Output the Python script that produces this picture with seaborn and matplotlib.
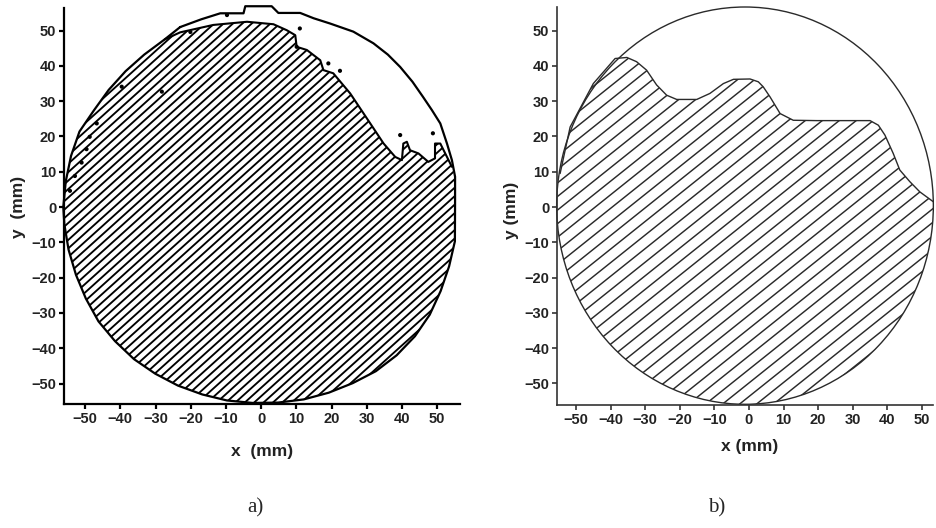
import numpy as np
import matplotlib
matplotlib.use("Agg")
import matplotlib.pyplot as plt
import seaborn as sns
from matplotlib.patches import Polygon, Ellipse
from matplotlib.collections import LineCollection

# ---- panel a: measured wafer outline (mm), clockwise from the top left ----
outer_a_x = [-23, -17, -11.6, -5, -4.5, 3, 4.9, 11.1, 14.9, 19.6, 26.2, 31.9, 36, 39.5, 43, 46,
             48.5, 50.9, 52.8, 54.2, 55.1, 55.1, 55.05, 53.4, 51.0, 47.9, 43.7, 38.5, 32.6,
             26.0, 19.2, 12.1, 4.8, -2.4, -9.7, -16.7, -23.6, -30.1, -36.1, -41.5, -46.2,
             -49.8, -52.6, -54.7, -55.9, -56.2, -55.5, -54.0, -51.6, -47.5, -43.3, -38.5,
             -33.2, -27.4, -23]
outer_a_y = [51, 53.2, 54.9, 54.9, 56.9, 56.9, 55, 55, 53.5, 52, 49.7, 46.4, 43.2, 39.7, 35.5,
             31.2, 27.5, 23.7, 18, 13.3, 8.6, 2, -9.7, -16.8, -23.8, -30.5, -36.6, -42.0,
             -46.5, -49.9, -52.6, -54.5, -55.4, -55.5, -54.8, -53.1, -50.6, -47.2, -43.1,
             -38.0, -32.4, -25.9, -19.2, -12.1, -4.9, 0, 7.3, 14.5, 21.4, 27.4, 33.2, 38.5,
             43.2, 47.5, 51]

# inner edge of the hatched (covered) region
edge_a_x = [-27.4, -23, -13.6, -4, 3.5, 7.3, 9.7, 10.1, 13, 16.8, 17.7, 20.5, 25.3, 31, 34.8, 38.1,
            40, 40.4, 41.4, 42.3, 44.7, 47.5, 49.4, 49.4, 50.9, 52.3, 54.2]
edge_a_y = [47.5, 49.5, 51.6, 52.5, 51.8, 50.1, 48.7, 45.4, 44.5, 41.6, 38.8, 37.9, 32.2, 23.7, 18, 14.2,
            13.3, 18, 18.5, 16.1, 15.2, 12.8, 13.8, 18, 18, 15.2, 11.4]

# stray specks
dots_a_x = [19.1, 22.4, 39.5, 48.8, 11, 10.1, -9.7, -20.1, -39.6, -28.2, -46.7, -48.7, -49.6, -51, -52.9, -54.3]
dots_a_y = [40.7, 38.6, 20.4, 20.9, 50.6, 45.4, 54.4, 49.6, 34.1, 32.7, 23.7, 19.9, 16.4, 12.6, 8.8, 4.6]

# ---- panel b: wafer circle and covered region ----
circle_b_center = (-1.15, 0.4)
circle_b_size = (108.9, 112.6)

edge_b_x = [-54.6, -51.7, -45, -38.7, -35.3, -32.5, -29.6, -26.7, -23.8, -20.9, -15.1, -11.3,
            -7.4, -4.5, 0.3, 2.7, 4.1, 6.1, 9, 12.8, 19.6, 35, 37.4, 39.3, 41.7, 43.6, 46.5,
            49.4, 53.3]
edge_b_y = [9.5, 22.7, 35, 42.1, 42.4, 41.2, 38.8, 34.6, 31.7, 30.5, 30.5, 32.2, 35, 36.2, 36.3,
            35.5, 34.1, 31.2, 26.5, 24.6, 24.5, 24.5, 23.2, 20.4, 15.2, 10.5, 7.2, 4.3, 1.5]

ticks = list(range(-50, 51, 10))

sns.set_style("ticks")
plt.rcParams['font.family'] = ['Liberation Sans', 'DejaVu Sans']


def add_hatch(ax, poly_xy, slope, step, lw, color):
    patch = Polygon(poly_xy, closed=True, facecolor='none', edgecolor='none',
                    transform=ax.transData)
    ax.add_patch(patch)
    segs = [[(-80, -80 * slope + c), (80, 80 * slope + c)]
            for c in np.arange(-200, 200, step)]
    lc = LineCollection(segs, colors=color, linewidths=lw)
    ax.add_collection(lc)
    lc.set_clip_path(patch)


def style_axes(ax, spine_lw, color):
    sns.despine(ax=ax)
    for s in ['left', 'bottom']:
        ax.spines[s].set_linewidth(spine_lw)
        ax.spines[s].set_color(color)
    ax.set_xticks(ticks)
    ax.set_yticks(ticks)
    ax.tick_params(direction='out', length=3.5, width=spine_lw, colors=color,
                   labelsize=10.5, pad=2)
    for lab in ax.get_xticklabels() + ax.get_yticklabels():
        lab.set_fontweight('bold')
        lab.set_color('#222222')


fig = plt.figure(figsize=(9.36, 5.28), dpi=100)

# ---- panel a ----
ax1 = fig.add_axes([64 / 936, 1 - 404 / 528, 396 / 936, 396 / 528])
ax1.set_xlim(-56, 56.5)
ax1.set_ylim(-55.8, 56.4)

# hatched region: inner edge, then the outer outline from the right side round the bottom
i_start = 20  # outer point (55.1, 8.6)
hatch_a = list(zip(edge_a_x, edge_a_y)) + list(zip(outer_a_x[i_start:-2], outer_a_y[i_start:-2]))
add_hatch(ax1, hatch_a, 0.9, 2.4, 1.35, 'black')

sns.lineplot(x=outer_a_x, y=outer_a_y, sort=False, estimator=None, color='black',
             lw=1.6, ax=ax1, clip_on=False)
sns.lineplot(x=edge_a_x, y=edge_a_y, sort=False, estimator=None, color='black',
             lw=1.5, ax=ax1)
sns.scatterplot(x=dots_a_x, y=dots_a_y, color='black', s=9, edgecolor='none', ax=ax1)

style_axes(ax1, 1.6, 'black')
ax1.set_xlabel('x  (mm)', fontsize=12.5, fontweight='bold', va='center', color='#222222')
ax1.set_ylabel('y  (mm)', fontsize=12.5, fontweight='bold', va='center', color='#222222')
ax1.xaxis.set_label_coords(0.5, -0.121)
ax1.yaxis.set_label_coords(-0.116, 0.497)

# ---- panel b ----
ax2 = fig.add_axes([557 / 936, 1 - 405 / 528, 376 / 936, 398 / 528])
ax2.set_xlim(-55.5, 53.2)
ax2.set_ylim(-56.1, 56.7)

cx, cy = circle_b_center
a, b = circle_b_size[0] / 2, circle_b_size[1] / 2
t1 = np.arctan2((edge_b_y[-1] - cy) / b, (edge_b_x[-1] - cx) / a)
t2 = np.arctan2((edge_b_y[0] - cy) / b, (edge_b_x[0] - cx) / a) - 2 * np.pi
tt = np.linspace(t1, t2, 200)
arc = list(zip(cx + a * np.cos(tt), cy + b * np.sin(tt)))
hatch_b = list(zip(edge_b_x, edge_b_y)) + arc
add_hatch(ax2, hatch_b, 0.784, 3.85, 1.05, '#2a2a2a')

ax2.add_patch(Ellipse(circle_b_center, circle_b_size[0], circle_b_size[1], fill=False,
                      edgecolor='#2a2a2a', lw=1.0, clip_on=False))
sns.lineplot(x=edge_b_x, y=edge_b_y, sort=False, estimator=None, color='#2a2a2a',
             lw=1.0, ax=ax2)

style_axes(ax2, 1.2, '#333333')
ax2.set_xlabel('x (mm)', fontsize=12.5, fontweight='bold', va='center', color='#222222')
ax2.set_ylabel('y (mm)', fontsize=12.5, fontweight='bold', va='center', color='#222222')
ax2.xaxis.set_label_coords(0.513, -0.105)
ax2.yaxis.set_label_coords(-0.12, 0.49)

fig.text(255 / 936, 1 - 508 / 528, 'a)', fontsize=15, family='Liberation Serif',
         ha='center', va='center')
fig.text(717 / 936, 1 - 508 / 528, 'b)', fontsize=15, family='Liberation Serif',
         ha='center', va='center')

fig.savefig('out.png', dpi=100)
